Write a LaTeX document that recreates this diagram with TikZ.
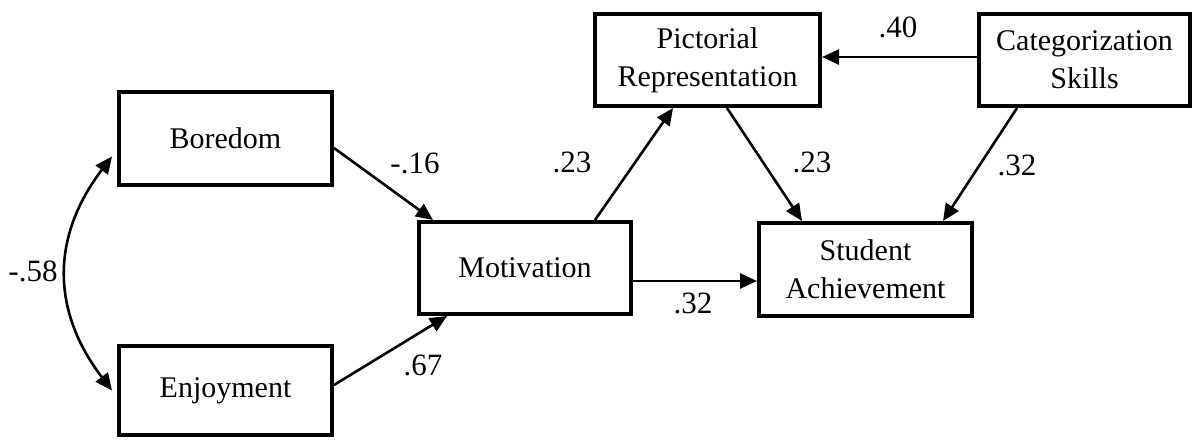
\documentclass[tikz,border=0pt]{standalone}
\usepackage{fontspec}
\setmainfont{Liberation Serif}
\usetikzlibrary{arrows.meta,calc}
\begin{document}
\begin{tikzpicture}[x=1pt,y=-1pt,
  box/.style={draw, line width=4pt, rectangle, align=center, inner sep=0pt,
    font=\fontsize{30pt}{38pt}\selectfont},
  arr/.style={line width=2.6pt, -{Triangle[length=17pt,width=15pt]}},
  darr/.style={line width=2.6pt, {Triangle[length=17pt,width=15pt]}-{Triangle[length=17pt,width=15pt]}},
  lbl/.style={inner sep=0pt, font=\fontsize{31pt}{36pt}\selectfont}]
\useasboundingbox (0,0) rectangle (1194,440);
\node[box, minimum width=213pt, minimum height=93pt] (bor) at (225.5,138.5) {Boredom};
\node[box, minimum width=213pt, minimum height=89pt] (enj) at (225.5,390.5) {Enjoyment};
\node[box, minimum width=212pt, minimum height=92pt] (mot) at (525,268) {Motivation};
\node[box, minimum width=225pt, minimum height=92pt] (pic) at (707.5,60) {Pictorial\\Representation};
\node[box, minimum width=213pt, minimum height=93pt] (stu) at (865.5,269.5) {Student\\Achievement};
\node[box, minimum width=211pt, minimum height=92pt] (cat) at (1084.5,60) {Categorization\\Skills};

\draw[arr] ([yshift=-9.5pt]bor.east) -- ([xshift=-92pt]mot.north);
\draw[arr] ([yshift=5.5pt]enj.east) -- ([xshift=-78pt]mot.south);
\draw[arr] ([xshift=70pt]mot.north) -- ([xshift=-34.5pt]pic.south);
\draw[arr] ([xshift=19.5pt]pic.south) -- ([xshift=-63.5pt]stu.north);
\draw[arr] ([yshift=-13pt]mot.east) -- ([yshift=-13pt]mot.east -| stu.west);
\draw[arr] ([yshift=3pt]cat.west) -- ([yshift=3pt]cat.west -| pic.east);
\draw[arr] ([xshift=-67.5pt]cat.south) -- ([xshift=77.5pt]stu.north);
\draw[darr] ([xshift=-5pt,yshift=-18pt]bor.west) .. controls +(-61,80) and +(-61,-80) .. ([xshift=-5pt]enj.west);

\node[lbl] (l1) at (415,163) {-.16};
\node[lbl] (l2) at (423,365) {.67};
\node[lbl] (l3) at (33,271) {-.58};
\node[lbl] (l4) at (572,162) {.23};
\node[lbl] (l5) at (812,162) {.23};
\node[lbl] (l6) at (693,303) {.32};
\node[lbl] (l7) at (898,27) {.40};
\node[lbl] (l8) at (1017,165) {.32};
\end{tikzpicture}
\end{document}
